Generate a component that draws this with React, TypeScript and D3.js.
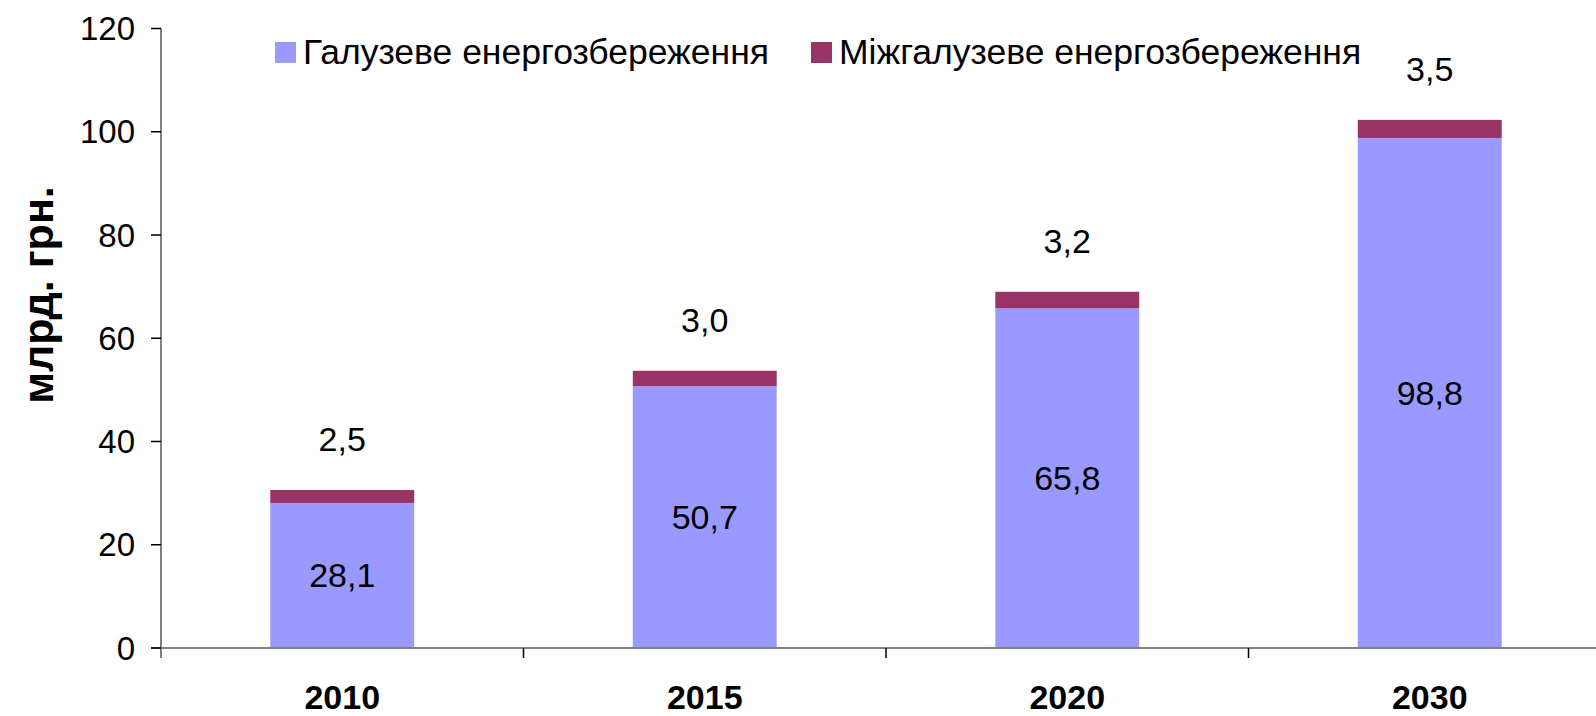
import React, { useEffect, useRef } from 'react';
import * as d3 from 'd3';

const years = ['2010', '2015', '2020', '2030'];
const sectoral = [28.1, 50.7, 65.8, 98.8];
const intersectoral = [2.5, 3.0, 3.2, 3.5];
const seriesNames = ['Галузеве енергозбереження', 'Міжгалузеве енергозбереження'];
const seriesColors = ['#9999FF', '#993366'];
const yTicks = [0, 20, 40, 60, 80, 100, 120];

const fmt = (v: number) => v.toFixed(1).replace('.', ',');

export default function App() {
    const ref = useRef<SVGSVGElement>(null);

    const width = 1596;
    const height = 716;
    const margin = { top: 28.5, bottom: 68, left: 161, right: -15 };

    useEffect(() => {
        const svg = d3.select(ref.current);
        svg.selectAll('*').remove();

        const font = "'Liberation Sans', Arial, sans-serif";

        // one slot per year, bar takes ~40% of the slot
        const x = d3.scaleBand<string>()
            .domain(years)
            .range([margin.left, width - margin.right])
            .padding(0);
        const barW = x.bandwidth() * 0.397;

        const y = d3.scaleLinear()
            .domain([0, 120])
            .range([height - margin.bottom, margin.top]);

        const rows = years.map((yr, i) => ({ year: yr, a: sectoral[i], b: intersectoral[i] }));
        const stacked = d3.stack<any>().keys(['a', 'b'])(rows);

        svg.append('g')
            .selectAll('g')
            .data(stacked)
            .join('g')
            .attr('fill', (d, i) => seriesColors[i])
            .selectAll('rect')
            .data(d => d)
            .join('rect')
            .attr('x', d => x(d.data.year)! + (x.bandwidth() - barW) / 2)
            .attr('y', d => y(d[1]))
            .attr('height', d => y(d[0]) - y(d[1]))
            .attr('width', barW);

        // axes
        const axisG = svg.append('g');
        const y0 = y(0);
        axisG.append('line')
            .attr('x1', margin.left).attr('x2', margin.left)
            .attr('y1', y(120)).attr('y2', y0 + 10)
            .attr('stroke', '#808080').attr('stroke-width', 2);
        axisG.append('line')
            .attr('x1', margin.left - 10).attr('x2', width)
            .attr('y1', y0).attr('y2', y0)
            .attr('stroke', '#808080').attr('stroke-width', 2);

        axisG.selectAll('.ytick')
            .data(yTicks)
            .join('line')
            .attr('x1', margin.left - 10).attr('x2', margin.left)
            .attr('y1', d => y(d)).attr('y2', d => y(d))
            .attr('stroke', '#000').attr('stroke-width', 1.5);
        axisG.selectAll('.ylab')
            .data(yTicks)
            .join('text')
            .attr('x', margin.left - 26)
            .attr('y', d => y(d))
            .attr('dy', '0.35em')
            .attr('text-anchor', 'end')
            .attr('font-family', font)
            .attr('font-size', 33)
            .text(d => d);

        // category boundary ticks
        axisG.selectAll('.xtick')
            .data(years.slice(1))
            .join('line')
            .attr('x1', d => x(d)!).attr('x2', d => x(d)!)
            .attr('y1', y0).attr('y2', y0 + 10)
            .attr('stroke', '#000').attr('stroke-width', 1.5);
        axisG.selectAll('.xlab')
            .data(years)
            .join('text')
            .attr('x', d => x(d)! + x.bandwidth() / 2)
            .attr('y', 709)
            .attr('text-anchor', 'middle')
            .attr('font-family', font)
            .attr('font-weight', 'bold')
            .attr('font-size', 34)
            .text(d => d);

        // value labels
        svg.append('g')
            .selectAll('text')
            .data(stacked[0])
            .join('text')
            .attr('x', d => x(d.data.year)! + x.bandwidth() / 2)
            .attr('y', d => (y(d[0]) + y(d[1])) / 2)
            .attr('dy', '0.35em')
            .attr('text-anchor', 'middle')
            .attr('font-family', font)
            .attr('font-size', 34)
            .text(d => fmt(d.data.a));
        svg.append('g')
            .selectAll('text')
            .data(stacked[1])
            .join('text')
            .attr('x', d => x(d.data.year)! + x.bandwidth() / 2)
            .attr('y', d => y(d[1]) - 51)
            .attr('dy', '0.35em')
            .attr('text-anchor', 'middle')
            .attr('font-family', font)
            .attr('font-size', 34)
            .text(d => fmt(d.data.b));

        // y title
        svg.append('text')
            .attr('transform', 'translate(53, 295) rotate(-90)')
            .attr('text-anchor', 'middle')
            .attr('font-family', font)
            .attr('font-weight', 'bold')
            .attr('font-size', 43)
            .text('млрд. грн.');

        // legend
        const legendX = [275, 811];
        const legend = svg.append('g')
            .selectAll('g')
            .data(seriesNames)
            .join('g')
            .attr('transform', (d, i) => `translate(${legendX[i]}, 42)`);
        legend.append('rect')
            .attr('width', 21).attr('height', 21)
            .attr('fill', (d, i) => seriesColors[i]);
        legend.append('text')
            .attr('x', 28)
            .attr('y', 22)
            .attr('font-family', font)
            .attr('font-size', 35.5)
            .text(d => d);
    }, []);

    return (
        <svg ref={ref} width={width} height={height}
            style={{ position: 'absolute', left: 0, top: 0, background: '#fff' }} />
    );
}
